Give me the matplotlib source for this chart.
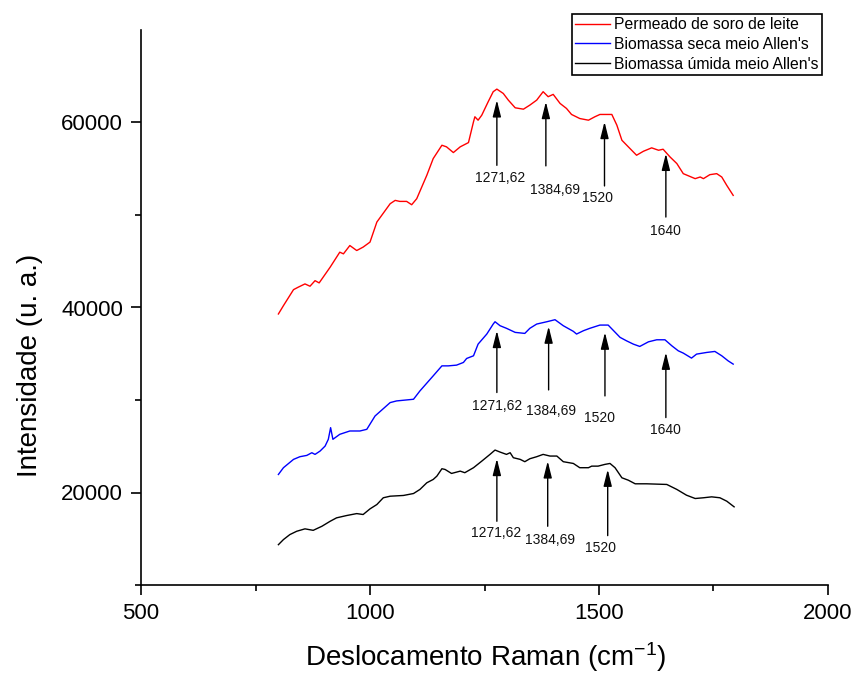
import matplotlib
matplotlib.use("Agg")
import matplotlib.pyplot as plt
from matplotlib.ticker import FixedLocator

plt.rcParams['font.family'] = ['Liberation Sans', 'DejaVu Sans']
plt.rcParams['mathtext.default'] = 'regular'

# ---- data ----
red_x = [800, 811, 833, 843, 858, 869, 880, 889, 913, 934, 942, 956, 971, 985, 1000, 1015, 1044, 1055, 1065, 1080,
         1091, 1102, 1124, 1138, 1157, 1167, 1182, 1197, 1215, 1226, 1229, 1236, 1244, 1258, 1269, 1277, 1291, 1302, 1317, 1335,
         1349, 1364, 1378, 1389, 1400, 1415, 1429, 1440, 1458, 1477, 1491, 1502, 1528, 1539, 1550, 1564, 1582, 1597, 1615, 1630,
         1640, 1655, 1670, 1684, 1710, 1721, 1728, 1742, 1757, 1768, 1779, 1793]
red_y = [39300, 40200, 41930, 42190, 42550, 42300, 42900, 42660, 44360, 45980, 45800, 46700, 46160, 46530, 47070, 49240, 51220, 51580, 51470, 51470,
         51110, 51760, 54290, 56100, 57540, 57370, 56750, 57370, 57830, 60080, 60620, 60250, 60790, 62240, 63330, 63610, 63140, 62420, 61590, 61440,
         61880, 62420, 63330, 62790, 63040, 62060, 61520, 60870, 60430, 60250, 60620, 60870, 60870, 59710, 58080, 57370, 56460, 56890, 57260, 57000,
         57110, 56280, 55560, 54470, 53930, 54110, 53930, 54360, 54470, 54110, 53200, 52120]

blue_x = [800, 811, 833, 847, 862, 873, 880, 891, 902, 909, 914, 919, 934, 956, 978, 993, 1011, 1044, 1058, 1095,
          1109, 1138, 1157, 1171, 1189, 1204, 1211, 1226, 1236, 1255, 1269, 1273, 1284, 1298, 1317, 1338, 1349, 1364, 1386, 1404,
          1422, 1444, 1451, 1466, 1480, 1502, 1520, 1546, 1560, 1575, 1589, 1608, 1626, 1644, 1659, 1673, 1684, 1702, 1713, 1735,
          1753, 1768, 1782, 1793]
blue_y = [21950, 22680, 23580, 23870, 24010, 24300, 24120, 24480, 25020, 25750, 27010, 25750, 26290, 26650, 26650, 26830, 28270, 29720, 29900, 30080,
          30980, 32610, 33690, 33690, 33770, 34060, 34490, 34780, 36040, 37130, 38210, 38460, 38030, 37750, 37310, 37200, 37750, 38210, 38460, 38680,
          38030, 37420, 37130, 37490, 37750, 38100, 38100, 36770, 36400, 36040, 35790, 36290, 36510, 36510, 35860, 35320, 35070, 34530, 34960, 35140,
          35250, 34780, 34230, 33880]

black_x = [800, 811, 825, 840, 858, 876, 895, 913, 927, 949, 971, 985, 1000, 1015, 1029, 1044, 1073, 1095, 1109, 1124,
           1138, 1146, 1157, 1164, 1178, 1197, 1207, 1226, 1244, 1262, 1273, 1284, 1298, 1306, 1313, 1328, 1338, 1349, 1364, 1378,
           1393, 1408, 1422, 1444, 1458, 1477, 1484, 1498, 1513, 1524, 1535, 1550, 1564, 1579, 1604, 1648, 1670, 1691, 1710, 1728,
           1746, 1764, 1779, 1795]
black_y = [14360, 14910, 15450, 15810, 16070, 15910, 16350, 16890, 17260, 17510, 17720, 17620, 18230, 18700, 19430, 19600, 19680, 19890, 20330, 21050,
           21410, 21770, 22570, 22490, 22060, 22310, 22140, 22680, 23390, 24120, 24590, 24370, 24120, 24300, 23760, 23580, 23330, 23650, 23870, 24120,
           23940, 23940, 23330, 23140, 22680, 22680, 22850, 22850, 23040, 23140, 22680, 21590, 21330, 20940, 20940, 20870, 20330, 19710, 19350, 19430,
           19530, 19430, 19060, 18450]

series_labels = ["Permeado de soro de leite", "Biomassa seca meio Allen's", "Biomassa úmida meio Allen's"]

# annotations (arrow x, arrow head y, arrow tail y, label text, label x, label y)
red_ann_x = [1277, 1384, 1512, 1646]
red_ann_head = [62420, 62240, 60080, 56640]
red_ann_tail = [55370, 55310, 53140, 49780]
red_ann_text = ['1271,62', '1384,69', '1520', '1640']
red_lab_x = [1284, 1404, 1496, 1645]
red_lab_y = [54040, 52740, 51840, 48220]

blue_ann_x = [1277, 1390, 1513, 1646]
blue_ann_head = [37490, 37960, 37310, 35140]
blue_ann_tail = [30810, 31090, 30440, 28100]
blue_ann_text = ['1271,62', '1384,69', '1520', '1640']
blue_lab_x = [1277, 1395, 1501, 1645]
blue_lab_y = [29360, 28810, 28020, 26750]

black_ann_x = [1277, 1388, 1519]
black_ann_head = [23650, 23390, 22490]
black_ann_tail = [16890, 16350, 15340]
black_ann_text = ['1271,62', '1384,69', '1520']
black_lab_x = [1275, 1393, 1504]
black_lab_y = [15630, 14910, 14000]

x_major = [500, 1000, 1500, 2000]
x_minor = [750, 1250, 1750]
y_major = [20000, 40000, 60000]
y_minor = [10000, 30000, 50000]

# ---- figure ----
fig = plt.figure(figsize=(8.56, 6.73), dpi=100)
ax = fig.add_axes([141/856, 1-585/673, 687/856, 555/673])

l1, = ax.plot(red_x, red_y, color='#ff0000', lw=1.0)
l2, = ax.plot(blue_x, blue_y, color='#0000ff', lw=1.0)
l3, = ax.plot(black_x, black_y, color='#000000', lw=1.0)

def annotate(xs, heads, tails, texts, lxs, lys):
    for x, h, t, s, lx, ly in zip(xs, heads, tails, texts, lxs, lys):
        ax.annotate('', xy=(x, h), xytext=(x, t),
                    arrowprops=dict(arrowstyle='-|>,head_length=1.0,head_width=0.25',
                                    color='black', lw=1.0, mutation_scale=10,
                                    shrinkA=0, shrinkB=0))
        ax.text(lx, ly, s, ha='center', va='center', fontsize=10, color='#111111')

annotate(red_ann_x, red_ann_head, red_ann_tail, red_ann_text, red_lab_x, red_lab_y)
annotate(blue_ann_x, blue_ann_head, blue_ann_tail, blue_ann_text, blue_lab_x, blue_lab_y)
annotate(black_ann_x, black_ann_head, black_ann_tail, black_ann_text, black_lab_x, black_lab_y)

ax.set_xlim(500, 2000)
ax.set_ylim(10000, 70000)
ax.xaxis.set_major_locator(FixedLocator(x_major))
ax.xaxis.set_minor_locator(FixedLocator(x_minor))
ax.yaxis.set_major_locator(FixedLocator(y_major))
ax.yaxis.set_minor_locator(FixedLocator(y_minor))
ax.set_xticklabels([str(v) for v in x_major])
ax.set_yticklabels([str(v) for v in y_major])

for s in ['top', 'right']:
    ax.spines[s].set_visible(False)
for s in ['left', 'bottom']:
    ax.spines[s].set_linewidth(1.2)
ax.tick_params(which='major', direction='out', length=7, width=1.2, labelsize=16, pad=6)
ax.tick_params(which='minor', direction='out', length=4, width=1.2)

ax.set_xlabel('Deslocamento Raman (cm$^{-1}$)', fontsize=20, va='center')
ax.xaxis.set_label_coords(0.502, -0.13)
ax.set_ylabel('Intensidade (u. a.)', fontsize=20, va='center')
ax.yaxis.set_label_coords(-0.162, 0.396)

leg = fig.legend([l1, l2, l3], series_labels, loc='upper right',
                 bbox_to_anchor=(822/856, 1-14/673), fontsize=11.3,
                 frameon=True, fancybox=False, shadow=False, framealpha=1,
                 handlelength=2.2, handletextpad=0.3, borderpad=0.2,
                 labelspacing=0.3, borderaxespad=0)
leg.get_frame().set_edgecolor('black')
leg.get_frame().set_linewidth(1.2)

fig.savefig('out.png', dpi=100)
